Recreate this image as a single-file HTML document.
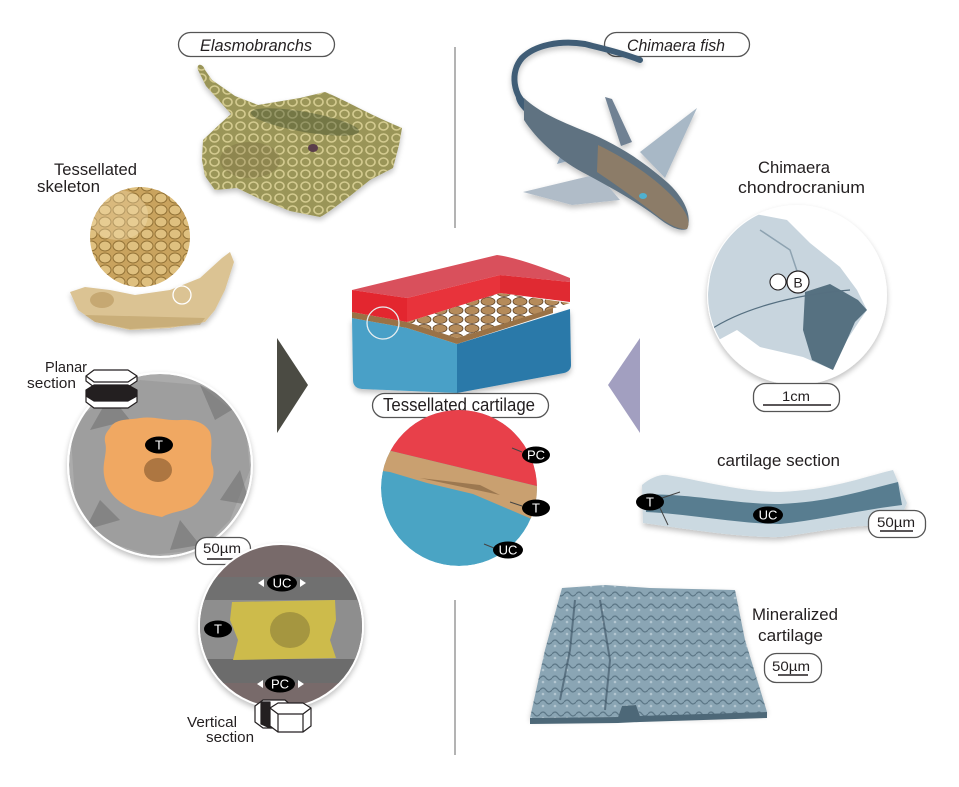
<!DOCTYPE html>
<html><head><meta charset="utf-8"><style>
html,body{margin:0;padding:0;background:#fff;}
svg{display:block;}
text{font-family:"Liberation Sans",sans-serif;fill:#231f20;}
.lb{fill:#fff;font-size:13px;text-anchor:middle;}
</style></head><body>
<svg width="959" height="787" viewBox="0 0 959 787" xmlns="http://www.w3.org/2000/svg">
<defs>
 <filter id="sh" x="-20%" y="-20%" width="140%" height="150%"><feGaussianBlur in="SourceAlpha" stdDeviation="3"/><feOffset dx="0" dy="3"/><feComponentTransfer><feFuncA type="linear" slope="0.25"/></feComponentTransfer><feMerge><feMergeNode/><feMergeNode in="SourceGraphic"/></feMerge></filter>
 <clipPath id="cPlanar"><circle cx="160" cy="465" r="91"/></clipPath>
 <clipPath id="cVert"><circle cx="281" cy="626" r="81"/></clipPath>
 <clipPath id="cCenter"><circle cx="459" cy="488" r="78"/></clipPath>
 <clipPath id="cSkull"><circle cx="797" cy="295" r="89"/></clipPath>
 <clipPath id="cTess"><circle cx="140" cy="237" r="50"/></clipPath>
 <pattern id="rayPat" width="13" height="12" patternUnits="userSpaceOnUse"><ellipse cx="6.5" cy="6" rx="4.5" ry="4" fill="none" stroke="#e2d89e" stroke-width="1.6"/></pattern>
 <pattern id="tessPat" width="14" height="12" patternUnits="userSpaceOnUse"><ellipse cx="7" cy="6" rx="6" ry="5" fill="#e3c585" stroke="#8a6a30" stroke-width="1"/></pattern>
 <pattern id="hexPat" width="16" height="9" patternUnits="userSpaceOnUse"><ellipse cx="8" cy="4.5" rx="7" ry="4" fill="#b58b5a" stroke="#5a3d20" stroke-width="0.8"/></pattern>
 <pattern id="minPat" width="12" height="12" patternUnits="userSpaceOnUse"><path d="M0,6 Q3,2 6,6 T12,6" fill="none" stroke="#4a6474" stroke-width="1.2"/><circle cx="3" cy="10" r="1.3" fill="#c4d4dc"/></pattern>
</defs>

<!-- divider lines -->
<line x1="455" y1="47" x2="455" y2="228" stroke="#8a8a8a" stroke-width="1.3"/>
<line x1="455" y1="600" x2="455" y2="755" stroke="#8a8a8a" stroke-width="1.3"/>

<!-- Elasmobranchs pill -->
<rect x="178.5" y="32.5" width="156" height="24" rx="12" fill="#fff" stroke="#555" stroke-width="1.3"/>
<text x="200" y="51" font-size="17" font-style="italic" textLength="112" lengthAdjust="spacingAndGlyphs">Elasmobranchs</text>

<!-- Ray -->
<g filter="url(#sh)">
<path d="M198,70 C196,63 203,63 205,70 L212,80 L235,96 L258,105 L300,98 L325,92 C345,100 370,115 402,128 L399,145 L393,168 L370,180 L350,196 C335,207 325,215 320,217 L290,211 L260,199 L237,188 L215,190 L205,176 L202,160 L203,140 L220,124 L231,114 L206,86 Z" fill="#9a9558"/>
</g>
<path d="M198,70 C196,63 203,63 205,70 L212,80 L235,96 L258,105 L300,98 L325,92 C345,100 370,115 402,128 L399,145 L393,168 L370,180 L350,196 C335,207 325,215 320,217 L290,211 L260,199 L237,188 L215,190 L205,176 L202,160 L203,140 L220,124 L231,114 L206,86 Z" fill="url(#rayPat)" opacity="0.8"/>
<ellipse cx="305" cy="122" rx="55" ry="10" fill="#3c4a2a" opacity="0.4" transform="rotate(10 305 122)"/>
<ellipse cx="250" cy="160" rx="30" ry="18" fill="#6d5a32" opacity="0.25"/>
<ellipse cx="313" cy="148" rx="5" ry="4" fill="#5a3d4a"/>

<!-- Tessellated skeleton -->
<text x="54" y="175" font-size="17" textLength="83" lengthAdjust="spacingAndGlyphs">Tessellated</text>
<text x="37" y="192" font-size="17" textLength="63" lengthAdjust="spacingAndGlyphs">skeleton</text>
<g clip-path="url(#cTess)">
<circle cx="140" cy="237" r="50" fill="#c9a35e"/>
<rect x="88" y="186" width="104" height="104" fill="url(#tessPat)" opacity="0.85"/>
<ellipse cx="118" cy="215" rx="30" ry="25" fill="#f5e3b8" opacity="0.35"/>
</g>
<!-- jaw -->
<g filter="url(#sh)">
<path d="M70,292 L85,287 L110,290 L135,295 L170,290 L200,278 L222,258 L230,252 L234,262 L225,290 L215,310 L205,322 L170,328 L130,330 L95,322 L78,310 Z" fill="#dbc393"/>
</g>
<ellipse cx="102" cy="300" rx="12" ry="8" fill="#c6a872"/>
<path d="M85,315 L205,318 L200,325 L130,329 L95,322 Z" fill="#b8995f" opacity="0.5"/>
<circle cx="182" cy="295" r="9" fill="none" stroke="#fff" stroke-width="1.3"/>

<!-- arrows -->
<polygon points="277,338 308,385 277,433" fill="#4b4b43"/>
<polygon points="640,338 608,385 640,433" fill="#a29fc0"/>

<!-- Planar section -->
<text x="45" y="372" font-size="15" textLength="42" lengthAdjust="spacingAndGlyphs">Planar</text>
<text x="27" y="388" font-size="15" textLength="49" lengthAdjust="spacingAndGlyphs">section</text>
<g filter="url(#sh)">
<circle cx="160" cy="465" r="93" fill="#fff"/>
</g>
<g clip-path="url(#cPlanar)">
<circle cx="160" cy="465" r="91" fill="#ababab"/>
<path d="M70,420 L110,400 L140,380 L200,385 L245,420 L250,470 L230,520 L200,550 L150,555 L100,540 L75,500 Z" fill="#8c8c8c" opacity="0.4"/>
<path d="M110,395 L130,420 L90,430 Z M200,385 L215,420 L240,405 Z M240,470 L220,500 L250,505 Z M100,500 L120,520 L85,530 Z M180,520 L200,545 L170,550 Z" fill="#707070" opacity="0.55"/>
<path d="M110,428 C115,418 130,420 140,418 C155,416 165,421 180,420 C195,419 205,423 210,432 C214,445 208,455 213,467 C216,482 205,492 198,502 C188,512 175,510 162,517 C148,514 135,512 125,505 C112,497 106,488 104,475 C102,462 108,452 105,442 C104,435 107,432 110,428 Z" fill="#f0a862"/>
<ellipse cx="158" cy="470" rx="14" ry="12" fill="#6a4420" opacity="0.5"/>
</g>
<ellipse cx="159" cy="445" rx="14" ry="8.5" fill="#000"/><text class="lb" x="159" y="449.5">T</text>
<!-- planar hex icon -->
<g stroke="#231f20" stroke-width="1.2" stroke-linejoin="round">
<path d="M86,376 L94,370 L128,370 L137,376 L137,381 L128,387 L94,387 L86,381 Z" fill="#fff"/>
<path d="M86,376 L94,382 L128,382 L137,376" fill="none"/>
<path d="M86,390 L94,385 L128,385 L137,390 L137,396 L128,401 L94,401 L86,396 Z" fill="#231f20"/>
<path d="M86,396 L94,401 L128,401 L137,396 L137,402 L128,408 L94,408 L86,402 Z" fill="#fff"/>
</g>
<!-- 50um left -->
<rect x="195.5" y="537.5" width="55" height="27" rx="11" fill="#fff" stroke="#555" stroke-width="1.3"/>
<text x="203" y="553" font-size="14" textLength="38" lengthAdjust="spacingAndGlyphs">50µm</text>
<line x1="207" y1="559" x2="240" y2="559" stroke="#231f20" stroke-width="1.5"/>

<!-- Vertical section circle -->
<g filter="url(#sh)">
<circle cx="281" cy="626" r="83" fill="#fff"/>
</g>
<g clip-path="url(#cVert)">
<rect x="195" y="540" width="175" height="175" fill="#786a6a"/>
<rect x="195" y="577" width="175" height="24" fill="#707070"/>
<rect x="195" y="600" width="175" height="60" fill="#8e8e8e"/>
<rect x="195" y="659" width="175" height="24" fill="#6c6c6c"/>
<path d="M232,602 L335,600 L336,620 L330,640 L336,658 L233,660 L238,640 L230,620 Z" fill="#cdbb4b"/>
<ellipse cx="290" cy="630" rx="20" ry="18" fill="#6a6030" opacity="0.4"/>
</g>
<polygon points="258,583 264,579 264,587" fill="#fff"/>
<polygon points="306,583 300,579 300,587" fill="#fff"/>
<ellipse cx="282" cy="583" rx="15" ry="8.5" fill="#000"/><text class="lb" x="282" y="587.5">UC</text>
<ellipse cx="218" cy="629" rx="14" ry="8.5" fill="#000"/><text class="lb" x="218" y="633.5">T</text>
<polygon points="257,684 263,680 263,688" fill="#fff"/>
<polygon points="304,684 298,680 298,688" fill="#fff"/>
<ellipse cx="280" cy="684" rx="15" ry="8.5" fill="#000"/><text class="lb" x="280" y="688.5">PC</text>
<text x="187" y="727" font-size="15" textLength="50" lengthAdjust="spacingAndGlyphs">Vertical</text>
<text x="206" y="742" font-size="15" textLength="48" lengthAdjust="spacingAndGlyphs">section</text>
<!-- vertical hex icon -->
<g stroke="#231f20" stroke-width="1.2" stroke-linejoin="round">
<path d="M255,706 L263,700 L285,700 L292,706 L292,722 L285,728 L263,728 L255,722 Z" fill="#fff"/>
<path d="M261,702 L270,702 L270,728 L261,724 Z" fill="#231f20"/>
<path d="M270,708 L278,703 L303,703 L311,708 L311,726 L303,732 L278,732 L270,726 Z" fill="#fff"/>
<path d="M270,708 L278,714 L303,714 L311,708 M278,714 L278,732 M303,714 L303,732" fill="none"/>
</g>

<!-- Center block -->
<g filter="url(#sh)">
<path d="M352,318 L407,328 L457,344 L457,393 L362,389 Q353,388 353,380 Z" fill="#4aa0c7"/>
<path d="M457,344 L570,309 L571,365 Q571,371 564,373 L457,393 Z" fill="#2b79a9"/>
</g>
<path d="M407,322 L500,293 L570,303 L457,338 Z" fill="url(#hexPat)"/>
<path d="M407,322 L457,338 L457,344 L407,328 Z" fill="#9a7246"/>
<path d="M457,338 L553,308 L553,313 L457,344 Z" fill="#9a7246"/>
<path d="M352,312 L407,322 L407,328 L352,318 Z" fill="#9a7246"/>
<path d="M352,290 L497,255 Q520,258 570,278 L570,282 L500,275 L407,298 Z" fill="#d9505c"/>
<path d="M352,290 L407,298 L407,322 L352,312 Z" fill="#e3262f"/>
<path d="M407,298 L500,275 L500,293 L407,322 Z" fill="#e8333b"/>
<path d="M500,275 L570,282 L570,302 L500,293 Z" fill="#e02a32"/>
<circle cx="383" cy="323" r="16" fill="none" stroke="#e8eef0" stroke-width="1.3"/>

<!-- Tessellated cartilage pill -->
<rect x="372.5" y="393.5" width="176" height="24" rx="12" fill="#fff" stroke="#555" stroke-width="1.3"/>
<text x="383" y="411" font-size="18" textLength="152" lengthAdjust="spacingAndGlyphs">Tessellated cartilage</text>

<!-- center circle -->
<g clip-path="url(#cCenter)">
<circle cx="459" cy="488" r="78" fill="#4aa4c4"/>
<path d="M370,400 L545,400 L545,488 L387,450 L370,446 Z" fill="#e8404a"/>
<path d="M375,452 L387,450 L545,488 L545,525 L527,517 L473,494 L427,483 L390,472 L375,470 Z" fill="#c9a070"/>
<path d="M420,478 L500,495 L480,485 Z" fill="#5a3d20" opacity="0.4"/>
</g>
<line x1="522" y1="452" x2="512" y2="448" stroke="#444" stroke-width="1"/>
<ellipse cx="536" cy="455" rx="14" ry="8.5" fill="#000"/><text class="lb" x="536" y="459.5">PC</text>
<line x1="522" y1="506" x2="510" y2="502" stroke="#444" stroke-width="1"/>
<ellipse cx="536" cy="508" rx="14" ry="8.5" fill="#000"/><text class="lb" x="536" y="512.5">T</text>
<line x1="494" y1="548" x2="484" y2="544" stroke="#444" stroke-width="1"/>
<ellipse cx="508" cy="550" rx="15" ry="8.5" fill="#000"/><text class="lb" x="508" y="554.5">UC</text>

<!-- Chimaera fish pill -->
<rect x="604.5" y="32.5" width="145" height="24" rx="12" fill="#fff" stroke="#555" stroke-width="1.3"/>
<text x="627" y="51" font-size="17" font-style="italic" textLength="98" lengthAdjust="spacingAndGlyphs">Chimaera fish</text>

<!-- Chimaera fish -->
<g filter="url(#sh)">
<path d="M640,60 C620,52 600,48 585,44 C560,40 535,45 522,58 C510,72 512,95 530,110" fill="none" stroke="#3f5d76" stroke-width="6" stroke-linecap="round"/>
<path d="M518,88 C523,102 540,115 560,125 L535,120 C518,108 512,98 518,88 Z" fill="#3f5d76"/>
<polygon points="697,108 640,152 665,178" fill="#a8b8c6"/>
<polygon points="523,192 598,174 620,200 572,205" fill="#b0bcc8"/>
<polygon points="557,164 568,137 586,156" fill="#8fa4b8"/>
<path d="M524,98 C540,113 562,122 592,134 C622,147 648,165 668,183 C683,197 693,215 687,229 C680,232 668,226 657,217 C637,202 612,188 582,172 C557,158 537,140 524,120 Z" fill="#5f7281"/>
<path d="M598,145 C625,158 652,176 670,194 C684,208 692,220 687,229 C676,230 662,220 650,210 C633,197 615,184 597,172 Z" fill="#8c7c68"/>
<polygon points="605,97 612,99 632,142 621,146" fill="#6f8193"/>
</g>
<ellipse cx="643" cy="196" rx="4" ry="3" fill="#4fb0d0"/>

<!-- Chimaera chondrocranium -->
<text x="758" y="173" font-size="17" textLength="72" lengthAdjust="spacingAndGlyphs">Chimaera</text>
<text x="738" y="193" font-size="17" textLength="127" lengthAdjust="spacingAndGlyphs">chondrocranium</text>
<g filter="url(#sh)">
<circle cx="797" cy="295" r="90" fill="#fff"/>
</g>
<g clip-path="url(#cSkull)">
<path d="M750,213 L787,220 L810,243 L840,267 L857,290 L867,310 L860,320 L847,340 L833,370 L803,357 L760,347 L737,330 L713,343 L707,300 L713,253 L733,220 Z" fill="#c8d5de"/>
<path d="M805,292 L830,284 L858,300 L867,310 L855,322 L847,340 L833,370 L812,360 L803,330 Z" fill="#3a5869" opacity="0.8"/>
<path d="M710,330 C740,310 790,295 850,290" fill="none" stroke="#556f80" stroke-width="1.2"/>
<path d="M760,230 L790,250 L800,280" fill="none" stroke="#8ea3b1" stroke-width="1.5"/>
</g>
<circle cx="778" cy="282" r="8" fill="#fff" stroke="#231f20" stroke-width="1.1"/>
<circle cx="798" cy="282" r="11" fill="#fff" stroke="#231f20" stroke-width="1.2"/>
<text x="798" y="287.5" font-size="14" text-anchor="middle">B</text>
<!-- 1cm -->
<rect x="753.5" y="383.5" width="86" height="28" rx="12" fill="#fff" stroke="#555" stroke-width="1.3"/>
<text x="782" y="401" font-size="14" textLength="28" lengthAdjust="spacingAndGlyphs">1cm</text>
<line x1="763" y1="405" x2="831" y2="405" stroke="#231f20" stroke-width="1.5"/>

<!-- cartilage section -->
<text x="717" y="466" font-size="17" textLength="123" lengthAdjust="spacingAndGlyphs">cartilage section</text>
<g filter="url(#sh)">
<path d="M642,485 C650,478 660,474 667,475 C700,480 740,492 780,492 C830,490 860,478 893,470 L907,503 L897,527 C860,522 820,532 780,537 C740,538 680,528 643,523 Z" fill="#cbd9e1"/>
</g>
<path d="M645,495 C680,492 740,505 780,504 C830,502 865,490 898,482 L902,505 C860,510 820,520 780,524 C740,524 690,514 646,512 Z" fill="#587d90"/>
<line x1="662" y1="498" x2="680" y2="492" stroke="#444" stroke-width="1"/>
<line x1="660" y1="508" x2="668" y2="525" stroke="#444" stroke-width="1"/>
<ellipse cx="650" cy="502" rx="14" ry="8.5" fill="#000"/><text class="lb" x="650" y="506.5">T</text>
<ellipse cx="768" cy="515" rx="15" ry="8.5" fill="#000"/><text class="lb" x="768" y="519.5">UC</text>
<rect x="868.5" y="510.5" width="57" height="27" rx="11" fill="#fff" stroke="#555" stroke-width="1.3"/>
<text x="877" y="527" font-size="14" textLength="38" lengthAdjust="spacingAndGlyphs">50µm</text>
<line x1="880" y1="531" x2="913" y2="531" stroke="#231f20" stroke-width="1.5"/>

<!-- Mineralized cartilage -->
<g filter="url(#sh)">
<path d="M562,588 L605,585 L650,588 L735,590 L745,640 L767,712 L700,716 L640,716 L636,705 L622,706 L618,717 L530,718 L545,650 Z" fill="#8aa5b4"/>
</g>
<path d="M562,588 L605,585 L650,588 L735,590 L745,640 L767,712 L700,716 L640,716 L636,705 L622,706 L618,717 L530,718 L545,650 Z" fill="url(#minPat)" opacity="0.7"/>
<path d="M530,718 L618,717 L622,706 L636,705 L640,716 L767,712 L767,718 L640,722 L618,723 L530,724 Z" fill="#4d6878"/>
<path d="M575,600 L570,650 L560,700 M600,600 L610,660 L605,710" fill="none" stroke="#3a5060" stroke-width="2" opacity="0.6"/>
<text x="752" y="620" font-size="17" textLength="86" lengthAdjust="spacingAndGlyphs">Mineralized</text>
<text x="758" y="641" font-size="17" textLength="65" lengthAdjust="spacingAndGlyphs">cartilage</text>
<rect x="764.5" y="653.5" width="57" height="29" rx="12" fill="#fff" stroke="#555" stroke-width="1.3"/>
<text x="772" y="671" font-size="14" textLength="38" lengthAdjust="spacingAndGlyphs">50µm</text>
<line x1="778" y1="675" x2="808" y2="675" stroke="#231f20" stroke-width="1.5"/>
</svg>
</body></html>
